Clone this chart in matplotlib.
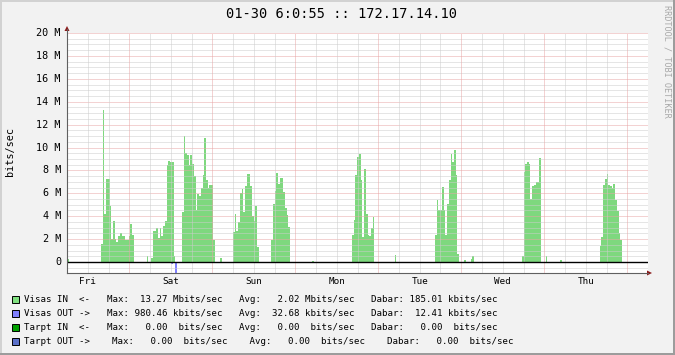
import numpy as np
import matplotlib
matplotlib.use("Agg")
import matplotlib.pyplot as plt
from matplotlib.patches import Rectangle, Polygon

# time axis: hours since Fri 06:00, one bar = 30 min, values in Mbit/s
day_names = ["Fri", "Sat", "Sun", "Mon", "Tue", "Wed", "Thu"]
day_noon_h = [6, 30, 54, 78, 102, 126, 150]

fri_in = [1.6, 13.27, 4.2, 7.25, 7.25, 4.9, 2.0, 3.6, 2.0, 1.77, 2.24, 2.5,
          2.3, 2.24, 1.9, 1.9, 2.3, 3.35, 2.4]
sat_am_in = [0.37, 2.7, 2.7, 2.93, 2.12, 2.96, 2.24, 3.17, 3.6, 8.47, 8.82,
             8.76, 8.76, 0.55]
sat_pm_in = [4.4, 10.97, 9.5, 9.35, 8.5, 9.35, 8.55, 7.54, 4.5, 5.97, 5.8,
             6.49, 7.6, 10.86, 7.19, 6.49, 6.72, 6.72, 1.9]
sun_am_in = [2.65, 4.2, 2.7, 3.46, 6.0, 6.37, 4.33, 6.66, 7.65, 7.71, 6.6,
             3.98, 3.58, 4.86, 1.31]
sun_pm_in = [1.95, 5.03, 6.2, 7.77, 6.84, 7.36, 7.36, 6.14, 4.68, 4.1, 3.06]
mon_in = [2.36, 3.7, 7.6, 9.17, 9.46, 7.19, 2.18, 8.12, 4.22, 2.36, 2.24,
          3.0, 3.93]
tue_in = [2.36, 5.44, 4.57, 4.57, 6.55, 4.5, 2.36, 5.03, 7.13, 9.46, 8.76,
          9.8, 7.6, 0.72]
wed_in = [0.55, 7.89, 8.58, 8.76, 8.53, 5.5, 6.66, 6.72, 7.01, 7.01, 9.05]
thu_in = [1.42, 2.18, 6.72, 7.25, 7.65, 6.72, 6.6, 6.49, 6.78, 5.44, 4.45,
          2.53, 1.9]
burst_starts = [9.8, 24.3, 33.2, 48.0, 59.0, 82.4, 106.4, 131.5, 154.0]
bursts = [fri_in, sat_am_in, sat_pm_in, sun_am_in, sun_pm_in, mon_in,
          tue_in, wed_in, thu_in]

# lone small samples
blip_h = [0.0, 23.0, 44.2, 70.8, 94.7, 114.9, 116.7, 117.2, 138.4, 142.5]
blip_in = [0.26, 0.55, 0.37, 0.1, 0.58, 0.2, 0.3, 0.5, 0.49, 0.15]

# outgoing traffic (drawn below zero)
out_starts = [10.4, 29.2, 33.6, 39.6, 41.5, 60.4, 83.7, 110.7, 111.7, 135.0]
out_bursts = [[0.1, 0.1, 0.1], [0.1, 0.1, 0.2, 0.05, 0.98],
              [0.1, 0.1, 0.1, 0.1, 0.1, 0.1], [0.1, 0.1, 0.1], [0.1],
              [0.1], [0.1, 0.1], [0.1], [0.05], [0.1]]

# legend table
series_names = ["Visas IN  <-", "Visas OUT ->", "Tarpt IN  <-", "Tarpt OUT ->"]
series_colors = ["#80e080", "#8080ff", "#00a000", "#5a70c8"]
max_vals = [13.27, 980.46, 0.00, 0.00]
max_units = ["M", "k", " ", " "]
avg_vals = [2.02, 32.68, 0.00, 0.00]
avg_units = ["M", "k", " ", " "]
cur_vals = [185.01, 12.41, 0.00, 0.00]
cur_units = ["k", "k", " ", " "]

W, H = 675, 355
green = "#7ed87e"
blue = "#8080ff"
mono = "DejaVu Sans Mono"

fig = plt.figure(figsize=(W / 100, H / 100), dpi=100, facecolor="#f2f2f2")

# plot area in pixels: x 67..648, y 33..273
x0, x1, ytop, ybot = 67, 648, 33, 273
ax = fig.add_axes([x0 / W, 1 - ybot / H, (x1 - x0) / W, (ybot - ytop) / H])
ax.set_facecolor("white")
ax.set_xlim(0, 168)
ax.set_ylim(-0.96, 20)
for s in ax.spines.values():
    s.set_visible(False)
ax.set_xticks([])
ax.set_yticks([])


def step_area(start, vals, sign, color):
    edges = start + 0.5 * np.arange(len(vals) + 1)
    v = sign * np.append(vals, vals[-1])
    ax.fill_between(edges, 0, v, step="post", color=color, lw=0, zorder=2)


for start, vals in zip(burst_starts, bursts):
    step_area(start, vals, 1, green)
for h, v in zip(blip_h, blip_in):
    step_area(h, [v], 1, green)
for start, vals in zip(out_starts, out_bursts):
    step_area(start, vals, -1, blue)

# grid on top of the data, like rrdtool
dot = (0, (1, 1))
for v in np.arange(-0.5, 20.01, 0.5):
    c = "#e8a6a6" if abs(v / 2 - round(v / 2)) < 1e-6 else "#cdcdcd"
    ax.axhline(v, color=c, lw=0.72, ls=dot, zorder=3)
for h in range(6, 169, 6):
    c = "#e8a6a6" if (h - 18) % 24 == 0 else "#cdcdcd"
    ax.axvline(h, color=c, lw=0.72, ls=dot, zorder=3)
ax.axhline(0, color="black", lw=1.0, zorder=4)

# overlay in pixel coordinates for axes, labels and legend
ov = fig.add_axes([0, 0, 1, 1])
ov.set_xlim(0, W)
ov.set_ylim(H, 0)
ov.axis("off")

ov.plot([x0, x0], [ybot, 29], color="#606060", lw=0.8)
ov.plot([x0, 648], [ybot, ybot], color="#606060", lw=0.8)
ov.add_patch(Polygon([(64.5, 31), (69.5, 31), (67, 26)], closed=True,
                     color="#8b1a1a", lw=0))
ov.add_patch(Polygon([(647, 270.5), (647, 275.5), (652, 273)], closed=True,
                     color="#8b1a1a", lw=0))

px_per_m = (ybot - ytop) / 20.96
for v in range(0, 21, 2):
    y = ybot - (v + 0.96) * px_per_m
    lab = "0" if v == 0 else "%d M" % v
    ov.text(61, y, lab, ha="right", va="center", fontsize=7.3, family=mono,
            color="black")

for name, h in zip(day_names, day_noon_h):
    x = x0 + h * (x1 - x0) / 168
    ov.text(x, 281, name, ha="center", va="center", fontsize=6.7, family=mono)

ov.text(10, 152, "bits/sec", rotation=90, ha="center", va="center",
        fontsize=7.3, family=mono)
ov.text(341.5, 14, "01-30 6:0:55 :: 172.17.14.10", ha="center", va="center",
        fontsize=9.8, family=mono)
ov.text(666.5, 5, "RRDTOOL / TOBI OETIKER", rotation=270, ha="center",
        va="top", fontsize=6.1, family=mono, color="#a8a8a8")

# legend
row_y = [299.3, 313.4, 327.4, 341.4]
row_x = [106.7, 106.7, 106.7, 112.3]
row_gap = [3, 3, 3, 4]
for i in range(4):
    y = row_y[i]
    ov.add_patch(Rectangle((12, y - 3.4), 6.6, 6.6, facecolor=series_colors[i],
                           edgecolor="black", lw=0.7))
    ov.text(23.7, y, series_names[i], ha="left", va="center", fontsize=6.55,
            family=mono)
    sp = " " * row_gap[i]
    line = ("Max: %6.2f %sbits/sec" % (max_vals[i], max_units[i]) + sp +
            "Avg: %6.2f %sbits/sec" % (avg_vals[i], avg_units[i]) + sp +
            "Dabar: %6.2f %sbits/sec" % (cur_vals[i], cur_units[i]))
    ov.text(row_x[i], y, line, ha="left", va="center", fontsize=6.55,
            family=mono)

# bevelled frame
ov.add_patch(Rectangle((0, 0), W, 2, color="#d2d2d2", lw=0))
ov.add_patch(Rectangle((0, 0), 2, H, color="#d2d2d2", lw=0))
ov.add_patch(Rectangle((0, H - 2), W, 2, color="#9c9c9c", lw=0))
ov.add_patch(Rectangle((W - 2, 0), 2, H, color="#9c9c9c", lw=0))

fig.savefig("out.png", dpi=100, facecolor=fig.get_facecolor())
